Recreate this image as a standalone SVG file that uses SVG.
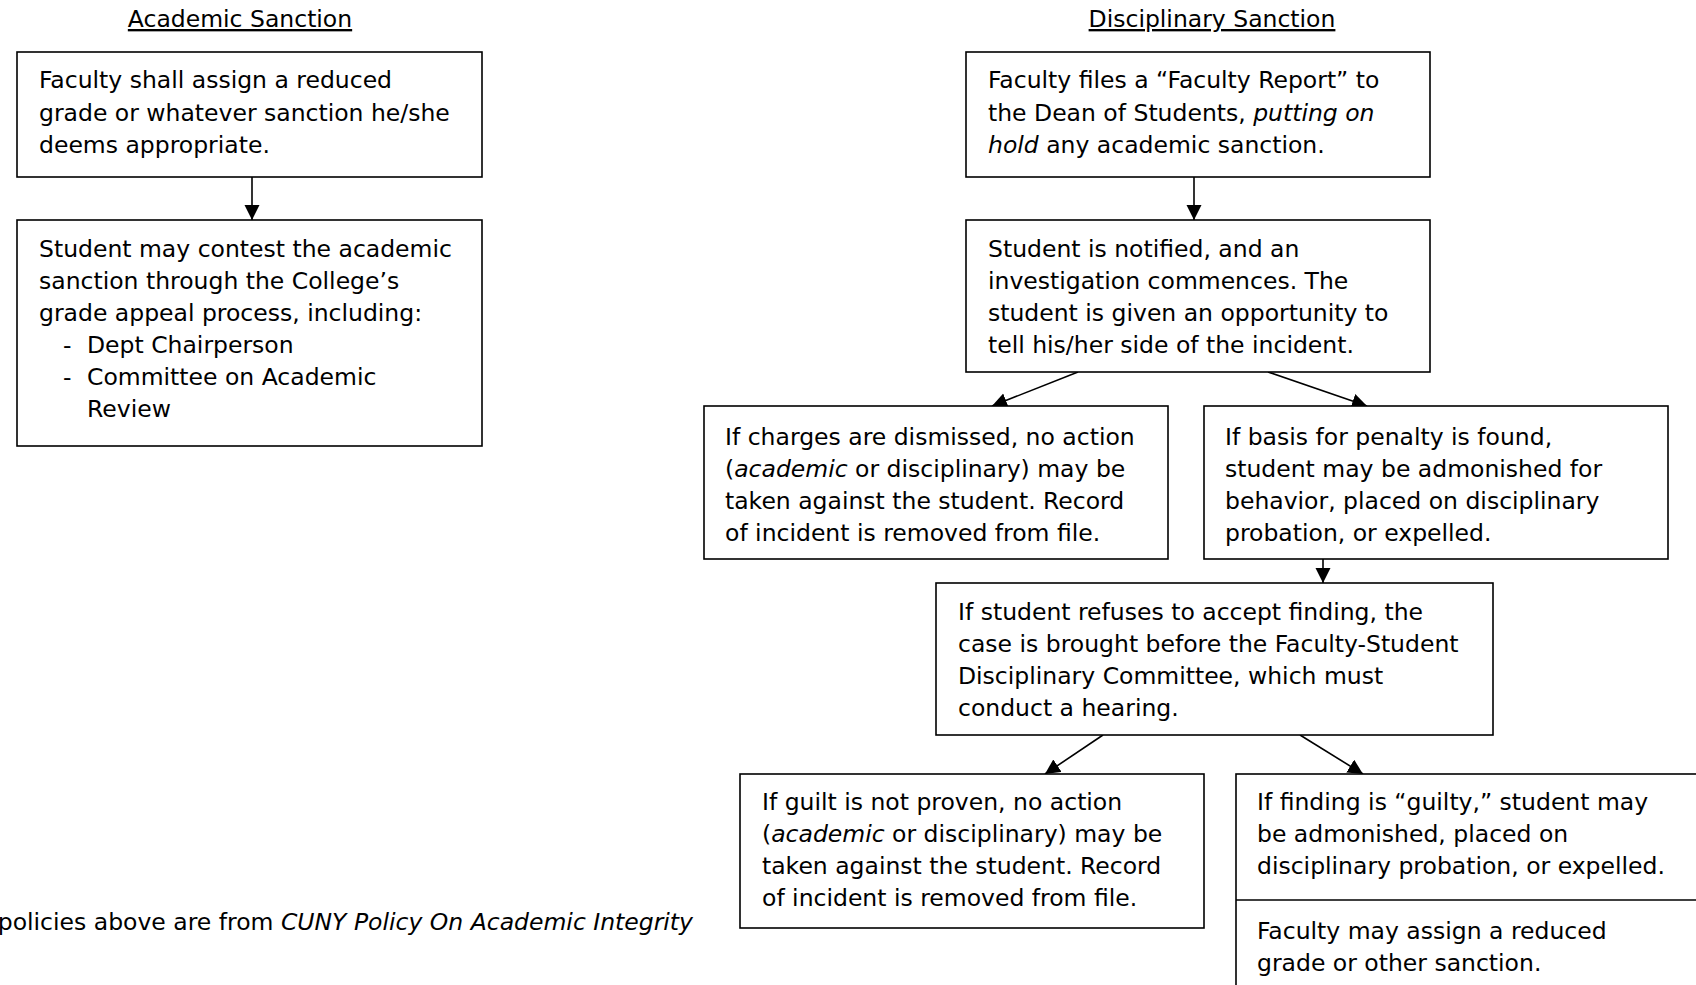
<svg xmlns="http://www.w3.org/2000/svg" width="1696" height="985" viewBox="0 0 1696 985">
<style>
text{font-family:"DejaVu Sans","Verdana",sans-serif;font-size:23.5px;fill:#000}
.box{fill:#fff;stroke:#000;stroke-width:1.6}
.conn{stroke:#000;stroke-width:1.6;fill:none;marker-end:url(#ah)}
.it{font-style:italic}
.hd{text-decoration:underline;text-anchor:middle}
</style>
<defs>
<marker id="ah" markerUnits="userSpaceOnUse" markerWidth="17" markerHeight="17" refX="15" refY="7.5" orient="auto">
<path d="M0,0 L15,7.5 L0,15 z" fill="#000"/>
</marker>
</defs>
<rect width="1696" height="985" fill="#fff"/>
<g id="headers">
<text class="hd" x="240" y="27">Academic Sanction</text>
<text class="hd" x="1212" y="27">Disciplinary Sanction</text>
</g>
<g id="connectors">
<line class="conn" x1="252" y1="177" x2="252" y2="220"/>
<line class="conn" x1="1194" y1="177" x2="1194" y2="220"/>
<line class="conn" x1="1078" y1="372" x2="992" y2="406"/>
<line class="conn" x1="1268" y1="372" x2="1367" y2="406"/>
<line class="conn" x1="1323" y1="559" x2="1323" y2="583"/>
<line class="conn" x1="1103" y1="735" x2="1045" y2="774"/>
<line class="conn" x1="1300" y1="735" x2="1363" y2="774"/>
</g>
<g id="a1">
<rect class="box" x="17" y="52" width="465" height="125"/>
<text x="39" y="88">Faculty shall assign a reduced</text>
<text x="39" y="120.5">grade or whatever sanction he/she</text>
<text x="39" y="153">deems appropriate.</text>
</g>
<g id="a2">
<rect class="box" x="17" y="220" width="465" height="226"/>
<text x="39" y="257">Student may contest the academic</text>
<text x="39" y="289">sanction through the College’s</text>
<text x="39" y="321">grade appeal process, including:</text>
<text x="63" y="353">-</text><text x="87" y="353">Dept Chairperson</text>
<text x="63" y="385">-</text><text x="87" y="385">Committee on Academic</text>
<text x="87" y="417">Review</text>
</g>
<g id="d1">
<rect class="box" x="966" y="52" width="464" height="125"/>
<text x="988" y="88">Faculty files a “Faculty Report” to</text>
<text x="988" y="120.5">the Dean of Students, <tspan class="it">putting on</tspan></text>
<text x="988" y="153"><tspan class="it">hold</tspan> any academic sanction.</text>
</g>
<g id="d2">
<rect class="box" x="966" y="220" width="464" height="152"/>
<text x="988" y="257">Student is notified, and an</text>
<text x="988" y="289">investigation commences. The</text>
<text x="988" y="321">student is given an opportunity to</text>
<text x="988" y="353">tell his/her side of the incident.</text>
</g>
<g id="d3">
<rect class="box" x="704" y="406" width="464" height="153"/>
<text x="725" y="445">If charges are dismissed, no action</text>
<text x="725" y="477">(<tspan class="it">academic</tspan> or disciplinary) may be</text>
<text x="725" y="509">taken against the student. Record</text>
<text x="725" y="541">of incident is removed from file.</text>
</g>
<g id="d4">
<rect class="box" x="1204" y="406" width="464" height="153"/>
<text x="1225" y="445">If basis for penalty is found,</text>
<text x="1225" y="477">student may be admonished for</text>
<text x="1225" y="509">behavior, placed on disciplinary</text>
<text x="1225" y="541">probation, or expelled.</text>
</g>
<g id="d5">
<rect class="box" x="936" y="583" width="557" height="152"/>
<text x="958" y="620">If student refuses to accept finding, the</text>
<text x="958" y="652">case is brought before the Faculty-Student</text>
<text x="958" y="684">Disciplinary Committee, which must</text>
<text x="958" y="716">conduct a hearing.</text>
</g>
<g id="d6">
<rect class="box" x="740" y="774" width="464" height="154"/>
<text x="762" y="810">If guilt is not proven, no action</text>
<text x="762" y="842">(<tspan class="it">academic</tspan> or disciplinary) may be</text>
<text x="762" y="874">taken against the student. Record</text>
<text x="762" y="906">of incident is removed from file.</text>
</g>
<g id="d7">
<rect class="box" x="1236" y="774" width="520" height="260"/>
<line x1="1236" y1="900" x2="1696" y2="900" stroke="#000" stroke-width="1.6"/>
<text x="1257" y="810">If finding is “guilty,” student may</text>
<text x="1257" y="842">be admonished, placed on</text>
<text x="1257" y="874">disciplinary probation, or expelled.</text>
<text x="1257" y="939">Faculty may assign a reduced</text>
<text x="1257" y="971">grade or other sanction.</text>
</g>
<g id="footer">
<text x="693" y="930" text-anchor="end">policies above are from <tspan class="it">CUNY Policy On Academic Integrity</tspan></text>
</g>
</svg>
